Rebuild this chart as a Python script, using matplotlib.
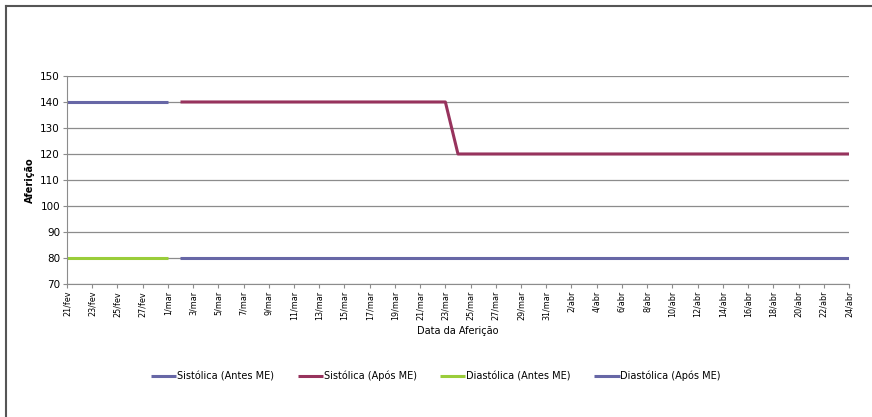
import datetime as dt
import matplotlib
matplotlib.use("Agg")
import matplotlib.pyplot as plt
import matplotlib.dates as mdates
from matplotlib.lines import Line2D

# Dados (pontos de mudanca das series)
sist_antes_datas = ["2011-02-21", "2011-03-01"]
sist_antes_vals = [140, 140]
sist_apos_datas = ["2011-03-02", "2011-03-23", "2011-03-24", "2011-04-24"]
sist_apos_vals = [140, 140, 120, 120]
diast_antes_datas = ["2011-02-21", "2011-03-01"]
diast_antes_vals = [80, 80]
diast_apos_datas = ["2011-03-02", "2011-04-24"]
diast_apos_vals = [80, 80]

meses = {2: "fev", 3: "mar", 4: "abr"}


def conv(datas):
    return [dt.datetime.strptime(d, "%Y-%m-%d") for d in datas]


def fmt_data(x, pos=None):
    d = mdates.num2date(x)
    return f"{d.day}/{meses[d.month]}"


fig = plt.figure(figsize=(8.72, 4.17), dpi=100)
ax = fig.add_axes([0.0768, 0.319, 0.8968, 0.4988])

ax.plot(conv(sist_antes_datas), sist_antes_vals, color="#6767a6", lw=2.2,
        label="Sistólica (Antes ME)", solid_capstyle="butt")
ax.plot(conv(sist_apos_datas), sist_apos_vals, color="#97335d", lw=2.2,
        label="Sistólica (Após ME)", solid_capstyle="butt")
ax.plot(conv(diast_antes_datas), diast_antes_vals, color="#9acd3a", lw=2.2,
        label="Diastólica (Antes ME)", solid_capstyle="butt")
ax.plot(conv(diast_apos_datas), diast_apos_vals, color="#6767a6", lw=2.2,
        label="Diastólica (Após ME)", solid_capstyle="butt")

ax.set_ylim(70, 150)
ax.set_yticks(range(70, 151, 10))
ax.set_xlim(dt.datetime(2011, 2, 21), dt.datetime(2011, 4, 24))
ticks = mdates.drange(dt.datetime(2011, 2, 21), dt.datetime(2011, 4, 25),
                      dt.timedelta(days=2))
ax.set_xticks(ticks)
ax.xaxis.set_major_formatter(plt.FuncFormatter(fmt_data))

ax.grid(axis="y", color="#8c8c8c", lw=0.9)
ax.set_axisbelow(True)
for s in ["top", "right"]:
    ax.spines[s].set_visible(False)
for s in ["left", "bottom"]:
    ax.spines[s].set_color("#8c8c8c")
ax.tick_params(axis="x", labelrotation=90, labelsize=5.8, length=3,
               color="#8c8c8c", pad=2)
ax.tick_params(axis="y", labelsize=7.5, length=3, color="#8c8c8c", pad=2)

ax.set_ylabel("Aferição", fontsize=7, fontweight="bold", labelpad=4)
ax.set_xlabel("Data da Aferição", fontsize=7, labelpad=4)

fig.legend(loc="center", bbox_to_anchor=(0.5, 0.098), ncol=4, frameon=False,
           fontsize=7, handlelength=2.6, handletextpad=0.1, columnspacing=2.4)

# moldura do grafico
fig.add_artist(Line2D([0.007, 0.007], [0, 0.986], color="#555555", lw=1.5,
                      transform=fig.transFigure))
fig.add_artist(Line2D([0.007, 1], [0.986, 0.986], color="#555555", lw=1.5,
                      transform=fig.transFigure))

plt.savefig("out.png", dpi=100)
